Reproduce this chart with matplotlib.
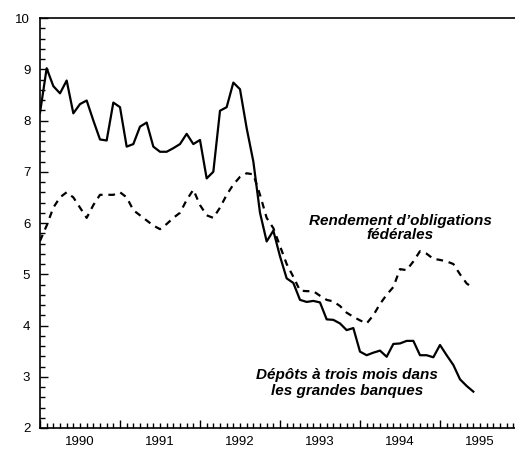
import numpy as np
import matplotlib.pyplot as plt
from matplotlib.ticker import MultipleLocator

plt.rcParams['font.family'] = ['Liberation Sans', 'DejaVu Sans']

# monthly data, Jan 1990 - Jun 1995
start_year = 1990
depots = [8.15, 9.02, 8.67, 8.53, 8.78, 8.14, 8.32, 8.39, 8.0, 7.63, 7.61, 8.35,
          8.26, 7.49, 7.54, 7.88, 7.96, 7.49, 7.39, 7.39, 7.46, 7.54, 7.74, 7.54,
          7.62, 6.87, 7.0, 8.19, 8.26, 8.74, 8.61, 7.85, 7.2, 6.2, 5.64, 5.85,
          5.35, 4.92, 4.83, 4.5, 4.46, 4.48, 4.45, 4.12, 4.11, 4.04, 3.91, 3.95,
          3.49, 3.42, 3.47, 3.51, 3.39, 3.64, 3.65, 3.7, 3.7, 3.42, 3.42, 3.38,
          3.62, 3.42, 3.23, 2.95, 2.82, 2.71]
obligations = [5.65, 5.95, 6.3, 6.5, 6.6, 6.5, 6.3, 6.1, 6.35, 6.55, 6.55, 6.55,
               6.6, 6.5, 6.25, 6.15, 6.05, 5.95, 5.88, 5.98, 6.1, 6.2, 6.45, 6.65,
               6.35, 6.15, 6.1, 6.3, 6.55, 6.75, 6.9, 6.97, 6.95, 6.55, 6.1, 5.9,
               5.55, 5.2, 4.95, 4.68, 4.67, 4.67, 4.58, 4.5, 4.47, 4.38, 4.25, 4.17,
               4.1, 4.04, 4.2, 4.42, 4.6, 4.75, 5.1, 5.08, 5.25, 5.45, 5.4, 5.3,
               5.28, 5.25, 5.2, 5.0, 4.82, 4.73]
years = [1990, 1991, 1992, 1993, 1994, 1995]

t = start_year + np.arange(len(depots)) / 12

fig = plt.figure(figsize=(5.15, 4.53), dpi=100)
ax = fig.add_axes([40/515, 25/453, 475/515, 410/453])

ax.plot(t, depots, color='black', lw=1.6)
ax.plot(t, obligations, color='black', lw=1.6, dashes=(3, 2.6))

ax.set_xlim(1990, 1990 + 475/80)
ax.set_ylim(2, 10)

ax.spines['right'].set_visible(False)
for s in ['left', 'bottom', 'top']:
    ax.spines[s].set_linewidth(1.2)

ax.xaxis.set_major_locator(MultipleLocator(1))
ax.xaxis.set_minor_locator(MultipleLocator(1/12))
ax.yaxis.set_major_locator(MultipleLocator(1))
ax.yaxis.set_minor_locator(MultipleLocator(0.2))
ax.tick_params(which='both', direction='in', top=False, right=False, width=1)
ax.tick_params(which='major', length=6)
ax.tick_params(which='minor', length=3.5)
ax.tick_params(axis='y', labelsize=9.5, pad=7)
ax.set_xticklabels([])

for yr in years:
    ax.annotate(str(yr), xy=(yr + 0.5, 0), xycoords=('data', 'axes fraction'),
                xytext=(0, -6), textcoords='offset points',
                ha='center', va='top', fontsize=9.5)

ax.text(1994.5, 5.9, "Rendement d\u2019obligations\nfédérales", ha='center', va='center',
        fontsize=11, fontweight='bold', style='italic', linespacing=1.0)
ax.text(1993.84, 2.88, "Dépôts à trois mois dans\nles grandes banques", ha='center', va='center',
        fontsize=11, fontweight='bold', style='italic', linespacing=1.15)

plt.savefig('out.png', dpi=100)
